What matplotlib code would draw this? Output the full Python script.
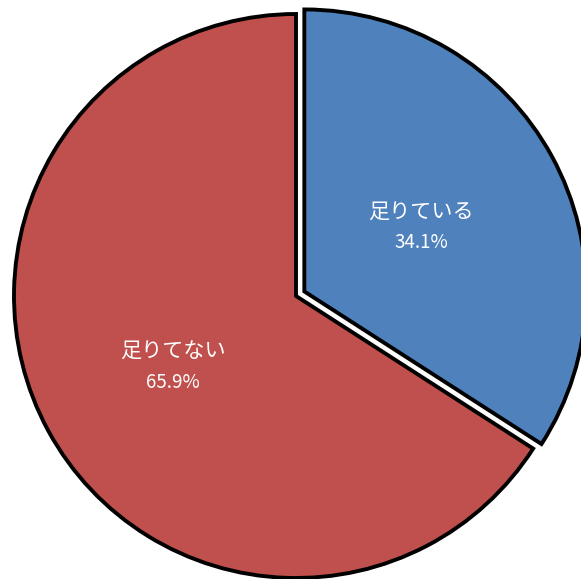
import matplotlib.pyplot as plt

plt.rcParams['font.family'] = ['Noto Sans CJK JP', 'DejaVu Sans']

labels = ['足りている', '足りてない']
values = [34.1, 65.9]
colors = ['#4F81BD', '#C0504D']

W, H = 581, 579
fig = plt.figure(figsize=(W / 100, H / 100), dpi=100)
ax = fig.add_axes([0, 0, 1, 1])

cx, cy, r = 296, H - 296, 282
# explode offset is in data units (pixels here)
wedges, _ = ax.pie(values, colors=colors, explode=[9.5, 0], startangle=90,
                   counterclock=False, center=(cx, cy), radius=r,
                   wedgeprops=dict(edgecolor='black', linewidth=2.8),
                   frame=True)
ax.set_xlim(0, W)
ax.set_ylim(0, H)
ax.set_aspect('equal')
ax.axis('off')

# label positions (pixels from top-left)
pos = [(421, 212), (173, 352)]
for lab, v, (x, y) in zip(labels, values, pos):
    ax.text(x, H - y, lab, color='white', fontsize=15.2, ha='center', va='center')
    ax.text(x, H - y - 31, f'{v:.1f}%', color='white', fontsize=13.5,
            ha='center', va='center')

fig.savefig('out.png', dpi=100)
